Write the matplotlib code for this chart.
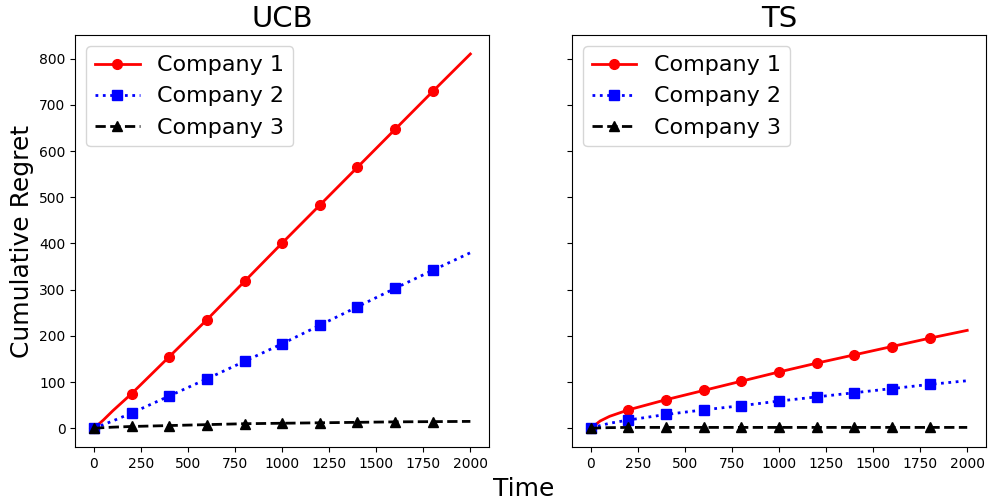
import matplotlib
matplotlib.use('Agg')
import matplotlib.pyplot as plt

# time points (markers every 200)
t = [0, 50, 100, 200, 400, 600, 800, 1000, 1200, 1400, 1600, 1800, 2000]

ucb_c1 = [0, 18, 38, 75, 155, 235, 318, 401, 483, 565, 647, 729, 810]
ucb_c2 = [0, 8, 16, 33, 70, 107, 145, 183, 223, 263, 303, 342, 380]
ucb_c3 = [0, 1.5, 2.5, 4, 6, 8, 10, 11, 12, 13, 14, 14.5, 15]

ts_c1 = [0, 16, 26, 40, 62, 82, 102, 122, 141, 159, 177, 195, 212]
ts_c2 = [0, 6, 11, 18, 30, 40, 49, 59, 68, 77, 86, 95, 103]
ts_c3 = [0, 1, 1.5, 2, 2, 2, 2, 2, 2, 2, 2, 2, 2]

labels = ['Company 1', 'Company 2', 'Company 3']
styles = [('r', '-', 'o'), ('b', ':', 's'), ('k', '--', '^')]
marks = [i for i, v in enumerate(t) if v % 200 == 0 and v < 2000]

fig, axes = plt.subplots(1, 2, figsize=(9.89, 5.04), dpi=100, sharey=True)
fig.subplots_adjust(left=0.076, right=0.997, top=0.93, bottom=0.113, wspace=0.2)

for ax, title, data in zip(axes, ['UCB', 'TS'],
                           [[ucb_c1, ucb_c2, ucb_c3], [ts_c1, ts_c2, ts_c3]]):
    for y, lab, (c, ls, m) in zip(data, labels, styles):
        ax.plot(t, y, color=c, linestyle=ls, marker=m, markevery=marks,
                lw=2, ms=7, label=lab)
    ax.set_title(title, fontsize=21)
    ax.set_xticks([0, 250, 500, 750, 1000, 1250, 1500, 1750, 2000])
    ax.legend(loc='upper left', fontsize=16)

axes[0].set_ylabel('Cumulative Regret', fontsize=18)
fig.text(0.53, 0.005, 'Time', ha='center', va='bottom', fontsize=18)

fig.savefig('out.png')
